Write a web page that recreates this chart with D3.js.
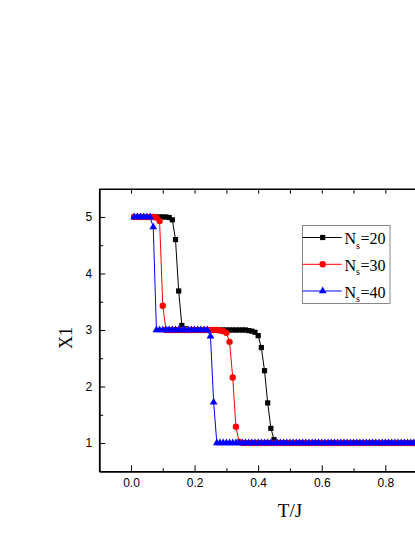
<!DOCTYPE html>
<html>
<head>
<meta charset="utf-8">
<script src="https://cdn.jsdelivr.net/npm/d3@7"></script>
<style>
body { margin: 0; background: #fff; overflow: hidden; }
svg { display: block; }
</style>
</head>
<body>
<svg width="415" height="537"></svg>
<script>
// temperature grid T/J
var T = [
  0.01,0.02,0.03,0.04,0.05,0.06,0.07,0.08,0.09,0.10,
  0.11,0.12,0.13,0.14,0.15,0.16,0.17,0.18,0.19,0.20,
  0.21,0.22,0.23,0.24,0.25,0.26,0.27,0.28,0.29,0.30,
  0.31,0.32,0.33,0.34,0.35,0.36,0.37,0.38,0.39,0.40,
  0.41,0.42,0.43,0.44,0.45,0.46,0.47,0.48,0.49,0.50,
  0.51,0.52,0.53,0.54,0.55,0.56,0.57,0.58,0.59,0.60,
  0.61,0.62,0.63,0.64,0.65,0.66,0.67,0.68,0.69,0.70,
  0.71,0.72,0.73,0.74,0.75,0.76,0.77,0.78,0.79,0.80,
  0.81,0.82,0.83,0.84,0.85,0.86,0.87,0.88,0.89,0.90,
  0.91,0.92,0.93,0.94,0.95,0.96,0.97,0.98,0.99,1.00
];

// X1 for Ns = 20
var ns20 = [
  5,5,5,5,5,5,5,5,5,5,
  5,4.99,4.95,4.60,3.69,3.08,3.02,3,3,3,
  3,3,3,3,3,3,3,3,3,3,
  3,3,3,3,3,3,2.99,2.98,2.96,2.90,
  2.69,2.28,1.71,1.26,1.06,1.01,1,1,1,1,
  1,1,1,1,1,1,1,1,1,1,
  1,1,1,1,1,1,1,1,1,1,
  1,1,1,1,1,1,1,1,1,1,
  1,1,1,1,1,1,1,1,1,1,
  1,1,1,1,1,1,1,1,1,1
];

// X1 for Ns = 30
var ns30 = [
  5,5,5,5,5,5,5,4.99,4.93,3.43,
  3,3,3,3,3,3,3,3,3,3,
  3,3,3,3,3,3,3,2.99,2.98,2.95,
  2.79,2.16,1.29,1.02,1,1,1,1,1,1,
  1,1,1,1,1,1,1,1,1,1,
  1,1,1,1,1,1,1,1,1,1,
  1,1,1,1,1,1,1,1,1,1,
  1,1,1,1,1,1,1,1,1,1,
  1,1,1,1,1,1,1,1,1,1,
  1,1,1,1,1,1,1,1,1,1
];

// X1 for Ns = 40
var ns40 = [
  5,5,5,5,5,5,4.82,3,3,3,
  3,3,3,3,3,3,3,3,3,3,
  3,3,3,3,2.89,1.72,1,1,1,1,
  1,1,1,1,1,1,1,1,1,1,
  1,1,1,1,1,1,1,1,1,1,
  1,1,1,1,1,1,1,1,1,1,
  1,1,1,1,1,1,1,1,1,1,
  1,1,1,1,1,1,1,1,1,1,
  1,1,1,1,1,1,1,1,1,1,
  1,1,1,1,1,1,1,1,1,1
];

var seriesLabels = ["20", "30", "40"];
var xMajor = [0, 0.2, 0.4, 0.6, 0.8, 1.0];
var xMinor = [-0.1, 0.1, 0.3, 0.5, 0.7, 0.9, 1.1];
var yMajor = [1, 2, 3, 4, 5];
var yMinor = [1.5, 2.5, 3.5, 4.5];

var svg = d3.select("svg");

var x = d3.scaleLinear().domain([-0.1, 1.1]).range([99.2, 480.7]);
var y = d3.scaleLinear().domain([0.5, 5.5]).range([471.3, 188.7]);

var series = [
  {vals: ns20, color: "#000000", sym: d3.symbolSquare, size: 27},
  {vals: ns30, color: "#ff0000", sym: d3.symbolCircle, size: 32},
  {vals: ns40, color: "#0000ff", sym: d3.symbolTriangle, size: 26}
];

// frame / axes
function styleAxis(g) {
  g.selectAll(".domain").attr("stroke", "#000").attr("stroke-width", 1.5);
  g.selectAll(".tick line").attr("stroke", "#000").attr("stroke-width", 1);
  g.selectAll("text").attr("font-family", "Liberation Sans, Arial, sans-serif")
    .attr("font-size", "12px").attr("fill", "#000");
}

// the 1.0 label falls outside the visible area
var fmtX = function(d) { return x(d) > 415 ? "" : d3.format(".1f")(d); };

var gx = svg.append("g").attr("transform", "translate(0," + y(0.5) + ")")
  .call(d3.axisBottom(x).tickValues(xMajor).tickFormat(fmtX)
    .tickSizeInner(-6).tickSizeOuter(0).tickPadding(7));
styleAxis(gx);
var gxm = svg.append("g").attr("transform", "translate(0," + y(0.5) + ")")
  .call(d3.axisBottom(x).tickValues(xMinor).tickFormat("").tickSizeInner(-3).tickSizeOuter(0));
styleAxis(gxm);

var gy = svg.append("g").attr("transform", "translate(" + x(-0.1) + ",0)")
  .call(d3.axisLeft(y).tickValues(yMajor).tickFormat(d3.format("d"))
    .tickSizeInner(-6).tickSizeOuter(0).tickPadding(7));
styleAxis(gy);
var gym = svg.append("g").attr("transform", "translate(" + x(-0.1) + ",0)")
  .call(d3.axisLeft(y).tickValues(yMinor).tickFormat("").tickSizeInner(-4).tickSizeOuter(0));
styleAxis(gym);

// top and right (no labels)
var gt = svg.append("g").attr("transform", "translate(0," + y(5.5) + ")")
  .call(d3.axisTop(x).tickValues(xMajor.concat(xMinor)).tickFormat("").tickSizeInner(-5).tickSizeOuter(0));
styleAxis(gt);
var gr = svg.append("g").attr("transform", "translate(" + x(1.1) + ",0)")
  .call(d3.axisRight(y).tickValues(yMajor.concat(yMinor)).tickFormat("").tickSizeInner(-5).tickSizeOuter(0));
styleAxis(gr);

// data
var line = d3.line().x(function(d) { return x(d[0]); }).y(function(d) { return y(d[1]); });

series.forEach(function(s) {
  var pts = T.map(function(t, i) { return [t, s.vals[i]]; });
  var g = svg.append("g");
  g.append("path").datum(pts)
    .attr("d", line).attr("fill", "none")
    .attr("stroke", s.color).attr("stroke-width", 1);
  g.selectAll("path.pt").data(pts).enter().append("path")
    .attr("class", "pt")
    .attr("transform", function(d) { return "translate(" + x(d[0]) + "," + y(d[1]) + ")"; })
    .attr("d", d3.symbol().type(s.sym).size(s.size))
    .attr("fill", s.color);
});

// axis titles
svg.append("text")
  .attr("x", 290).attr("y", 517)
  .attr("text-anchor", "middle")
  .attr("font-family", "Liberation Serif, Times New Roman, serif")
  .attr("font-size", "19px")
  .text("T/J");

svg.append("text")
  .attr("transform", "translate(72,338) rotate(-90)")
  .attr("text-anchor", "middle")
  .attr("font-family", "Liberation Serif, Times New Roman, serif")
  .attr("font-size", "18px")
  .text("X1");

// legend
var lg = svg.append("g");
lg.append("rect")
  .attr("x", 302.5).attr("y", 225.5).attr("width", 87.5).attr("height", 78)
  .attr("fill", "#fff").attr("stroke", "#888").attr("stroke-width", 1);

var rowY = [237.5, 264.3, 291];
series.forEach(function(s, i) {
  var ry = rowY[i];
  lg.append("line")
    .attr("x1", 302.5).attr("x2", 341.7).attr("y1", ry).attr("y2", ry)
    .attr("stroke", s.color).attr("stroke-width", 1);
  lg.append("path")
    .attr("transform", "translate(322.7," + ry + ")")
    .attr("d", d3.symbol().type(s.sym).size(s.size))
    .attr("fill", s.color);
  var t = lg.append("text")
    .attr("x", 344.5).attr("y", ry + 6.5)
    .attr("font-family", "Liberation Serif, Times New Roman, serif")
    .attr("font-size", "16px");
  t.append("tspan").text("N");
  t.append("tspan").attr("font-size", "10px").attr("dy", 4.5).text("s");
  t.append("tspan").attr("dx", 0.5).attr("dy", -4.5)
    .text("=" + seriesLabels[i]);
});
</script>
</body>
</html>
